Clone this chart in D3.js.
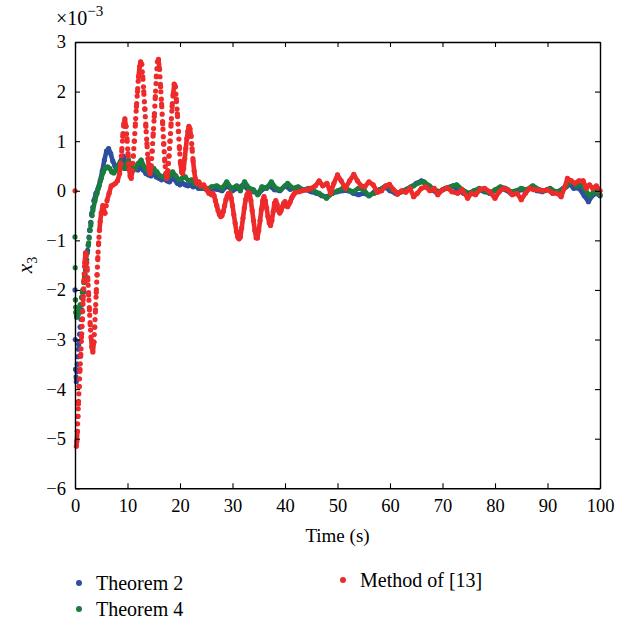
<!DOCTYPE html>
<html>
<head>
<meta charset="utf-8">
<script src="https://cdn.jsdelivr.net/npm/d3@7"></script>
<style>
  body { margin: 0; background: #fff; }
  svg { display: block; font-family: "Liberation Serif", "DejaVu Serif", serif; }
</style>
</head>
<body>
<svg id="chart" width="626" height="627"></svg>
<script>
// x_3 responses, values in units of 1e-3, time in seconds
var theorem2 = [[0,-2.0],[0.05,-3.0],[0.12,-3.6],[0.25,-3.85],[0.45,-3.5],[0.7,-3.1],[1.0,-2.75],[1.3,-2.4],[1.6,-2.05],[2.0,-1.6],[2.4,-1.2],[2.8,-0.8],[3.2,-0.45],[3.6,-0.2],[4.0,-0.05],[4.4,0.05],[4.8,0.2],[5.2,0.4],[5.6,0.62],[6.0,0.8],[6.4,0.85],[6.8,0.75],[7.2,0.6],[7.6,0.5],[8.0,0.45],[8.4,0.5],[8.8,0.62],[9.2,0.7],[9.6,0.55],[10.0,0.45],[10.5,0.42],[11,0.4],[11.5,0.45],[12,0.42],[12.5,0.5],[13,0.42],[13.5,0.35],[14,0.32],[14.5,0.3],[15,0.35],[15.5,0.28],[16,0.25],[16.5,0.22],[17,0.25],[17.5,0.2],[18,0.18],[18.5,0.25],[19,0.22],[19.5,0.15],[20,0.12],[20.5,0.15],[21,0.12],[21.5,0.1],[22,0.12],[22.5,0.08],[23,0.1],[23.5,0.05],[24,0.05],
  [25,0.03],[26,0.05],[27,0.03],[28,0.0],[29,0.1],[30,0.0],[31,0.05],[32,0.12],[33,0.02],[34,-0.02],[35,-0.05],[36,0.05],[37,0.1],[38,0.02],[39,0.0],[40,0.1],[41,0.03],[42,0.05],[43,0.0],[44,0.02],[45,-0.02],[46,-0.05],[47,-0.1],[48,-0.12],[49,-0.05],[50,-0.02],[51,0.0],[52,0.0],[53,-0.05],[54,-0.08],[55,-0.05],[56,-0.1],[57,-0.02],[58,0.02],[59,0.08],[60,0.0],[61,-0.05],[62,-0.03],[63,0.02],[64,0.08],[65,0.15],[66,0.2],[67,0.12],[68,0.02],[69,-0.05],[70,0.02],[71,0.05],[72,0.1],[73,0.0],[74,-0.05],[75,-0.05],[76,0.0],[77,0.02],[78,-0.02],[79,-0.05],[80,0.0],[81,0.05],[82,0.02],[83,-0.05],[84,-0.02],[85,0.02],[86,0.0],[87,0.08],[88,0.0],[89,-0.02],[90,0.03],[91,-0.05],[92,-0.02],[93,0.05],[94,0.15],[95,0.05],[96,0.05],[97,-0.1],[97.8,-0.22],[98.5,-0.1],[99.3,-0.05],[100,-0.1]];

var theorem4 = [[0,-0.93],[0.04,-1.55],[0.08,-2.2],[0.15,-2.45],[0.3,-2.55],[0.6,-2.5],[1.0,-2.3],[1.4,-2.05],[1.8,-1.75],[2.2,-1.4],[2.6,-1.05],[3.0,-0.7],[3.4,-0.4],[3.8,-0.2],[4.2,-0.05],[4.6,0.1],[5.0,0.25],[5.4,0.38],[5.8,0.46],[6.2,0.48],[6.6,0.45],[7.0,0.38],[7.4,0.36],[7.8,0.42],[8.2,0.52],[8.6,0.58],[9.0,0.5],[9.4,0.45],[9.8,0.55],[10.2,0.62],[10.6,0.5],[11,0.42],[11.5,0.45],[12,0.55],[12.6,0.62],[13.2,0.48],[13.8,0.4],[14.4,0.38],[15,0.45],[15.6,0.38],[16.2,0.3],[16.8,0.28],[17.4,0.35],[18,0.3],[18.6,0.38],[19.2,0.3],[19.8,0.22],[20.4,0.25],[21,0.28],[21.6,0.2],[22.2,0.22],[22.8,0.15],[23.4,0.12],[24,0.08],[24.6,0.05],[25.2,0.03],
  [26,0.08],[27,0.1],[28,0.05],[28.9,0.18],[29.8,0.05],[30.8,0.1],[31.5,0.0],[32.3,0.18],[33.2,0.05],[34,0.02],[34.8,-0.08],[35.6,0.08],[36.5,0.05],[37.4,0.18],[38.3,0.05],[39.2,0.02],[40.5,0.15],[41.5,0.05],[42.5,0.08],[43.5,0.02],[44.5,0.05],[45.5,0.0],[46.5,-0.05],[47.9,-0.15],[49,-0.05],[50,0.0],[51,0.05],[52,0.02],[53,-0.02],[54,0.05],[55,0.02],[56,-0.1],[57,-0.05],[58,0.02],[59.3,0.1],[60.5,0.02],[61.5,-0.05],[62.5,0.0],[63.5,0.05],[64.5,0.1],[65.5,0.16],[66.5,0.18],[67.5,0.1],[68.5,0.02],[69.5,-0.02],[70.5,0.05],[71.5,0.08],[72.7,0.12],[73.8,0.02],[75,-0.05],[76,0.0],[77,0.05],[78,0.0],[79,-0.05],[80,0.02],[81,0.08],[82,0.05],[83,-0.02],[84,0.0],[85,0.05],[86,0.02],[87.2,0.1],[88.5,0.02],[89.5,0.0],[90.5,0.05],[91.5,-0.02],[92.5,0.0],[93.6,0.08],[94.5,0.2],[95.5,0.1],[96.5,0.12],[97.3,0.0],[98,-0.1],[99,0.0],[100,-0.08]];

var method13 = [[0,0],[0.25,-5.15],[0.35,-5.05],[0.45,-4.85],[0.55,-4.55],[0.65,-4.3],[0.8,-3.95],[0.95,-3.6],[1.1,-3.3],[1.25,-2.95],[1.4,-2.6],[1.55,-2.2],[1.7,-1.8],[1.85,-1.45],[2.0,-1.25],[2.15,-1.3],[2.3,-1.55],[2.45,-1.8],[2.6,-2.1],[2.75,-2.4],[2.9,-2.7],[3.05,-2.95],[3.2,-3.15],[3.4,-3.25],[3.6,-3.05],[3.75,-2.75],[3.9,-2.4],[4.05,-2.05],[4.2,-1.7],[4.35,-1.35],[4.5,-1.05],[4.65,-0.8],[4.8,-0.62],[5.0,-0.45],[5.3,-0.3],[5.7,-0.45],[6.1,-0.2],[6.5,-0.05],[6.9,0.1],[7.3,0.12],[7.7,0.15],[8.1,0.2],
  [8.5,0.35],[8.7,0.55],[8.9,0.8],[9.1,1.1],[9.3,1.35],[9.5,1.45],[9.7,1.3],[9.9,1.05],[10.1,0.75],[10.3,0.45],[10.5,0.3],[10.7,0.25],[10.9,0.4],[11.1,0.7],[11.3,1.0],[11.5,1.35],[11.7,1.7],[11.9,2.0],[12.1,2.3],[12.3,2.5],[12.5,2.6],[12.7,2.55],[12.9,2.3],[13.1,2.0],[13.3,1.65],[13.5,1.3],[13.7,0.95],[13.9,0.65],[14.1,0.45],[14.3,0.35],[14.5,0.5],[14.7,0.8],[14.9,1.15],[15.1,1.5],[15.3,1.9],[15.5,2.3],[15.7,2.6],[15.9,2.65],[16.1,2.45],[16.3,2.1],[16.5,1.75],[16.7,1.35],[16.9,0.95],[17.1,0.6],[17.3,0.35],[17.5,0.25],[17.7,0.4],[17.9,0.7],[18.1,1.0],[18.3,1.35],[18.5,1.7],[18.7,1.95],[18.9,2.15],[19.1,2.1],[19.3,1.85],[19.5,1.55],[19.7,1.2],[19.9,0.85],[20.1,0.55],[20.3,0.38],[20.5,0.35],[20.7,0.45],[20.9,0.65],[21.1,0.85],[21.3,1.05],[21.5,1.2],[21.7,1.3],[21.9,1.25],[22.1,1.1],[22.3,0.85],[22.5,0.6],[22.7,0.4],[22.9,0.25],[23.2,0.15],[23.6,0.18],[24.0,0.1],[24.5,0.12],
  [25.0,0.05],[25.25,0.0],[25.5,-0.05],[25.75,-0.05],[26.0,-0.08],[26.25,-0.05],[26.5,-0.1],[26.75,-0.2],[27.0,-0.3],[27.25,-0.4],[27.5,-0.48],[27.75,-0.52],[28.0,-0.5],[28.25,-0.42],[28.5,-0.3],[28.75,-0.18],[29.0,-0.1],[29.25,-0.05],[29.5,-0.05],[29.75,-0.15],[30.0,-0.3],[30.25,-0.48],[30.5,-0.65],[30.75,-0.82],[31.0,-0.93],[31.25,-0.97],[31.5,-0.93],[31.75,-0.75],[32.0,-0.55],[32.25,-0.35],[32.5,-0.18],[32.75,-0.08],[33.0,-0.03],[33.25,-0.05],[33.5,-0.2],[33.75,-0.4],[34.0,-0.6],[34.25,-0.8],[34.5,-0.95],[34.75,-0.95],[35.0,-0.8],[35.25,-0.6],[35.5,-0.38],[35.75,-0.2],[36.0,-0.12],[36.25,-0.2],[36.5,-0.35],[36.75,-0.52],[37.0,-0.65],[37.25,-0.7],[37.5,-0.6],[37.75,-0.42],[38.0,-0.25],[38.25,-0.2],[38.5,-0.28],[38.75,-0.4],[39.0,-0.45],[39.25,-0.4],[39.5,-0.32],[39.75,-0.25],[40.0,-0.22],[40.25,-0.3],[40.5,-0.32],[40.75,-0.27],[41.0,-0.22],[41.25,-0.15],[41.5,-0.1],[41.75,-0.06],[42.0,-0.03],
  [42.6,-0.02],[43.2,0.0],[44.2,0.02],[45.0,0.05],[45.8,0.1],[46.5,0.2],[47.2,0.1],[48.0,0.15],[48.7,-0.05],[49.3,0.15],[50.0,0.32],[50.7,0.2],[51.5,0.05],[52.3,0.2],[53.1,0.33],[53.8,0.2],[54.5,0.1],[55.2,0.08],[56.0,0.18],[56.8,0.12],[57.6,-0.03],[58.4,0.0],[59.2,0.1],[59.9,0.13],[60.7,0.02],[61.4,-0.07],[62.2,0.0],[63.0,-0.03],[63.8,0.05],[64.5,-0.12],[65.2,-0.05],[66.0,0.05],[66.8,0.08],[67.6,0.0],[68.4,0.05],[69.1,-0.08],[70.0,0.02],[70.9,0.06],[71.8,-0.02],[72.9,-0.05],[73.7,0.02],[74.8,-0.15],[75.5,-0.05],[76.3,-0.08],[77.2,0.03],[78.0,0.05],[79.0,-0.02],[80.0,-0.15],[80.8,-0.02],[81.6,0.05],[82.5,0.02],[83.3,-0.08],[84.2,-0.05],[85.0,-0.18],[85.8,-0.05],[86.6,0.05],[87.4,0.02],[88.2,0.02],[89.0,0.0],[90.0,0.02],[91.0,-0.05],[91.8,-0.05],[92.6,-0.12],[93.2,0.05],[93.8,0.25],[94.5,0.2],[95.2,0.15],[96.0,0.2],[96.8,0.2],[97.4,0.05],[98.0,0.12],[98.6,0.05],[99.3,0.1],[100,0.0]];

var xTicks = [0, 10, 20, 30, 40, 50, 60, 70, 80, 90, 100];
var yTicks = [3, 2, 1, 0, -1, -2, -3, -4, -5, -6];

var seriesList = [
    {name: "Theorem 2", data: theorem2, color: "#2f4ea2"},
    {name: "Theorem 4", data: theorem4, color: "#1b7d3d"},
    {name: "Method of [13]", data: method13, color: "#ee2a2b"}
];

var plotL = 75, plotR = 600, plotT = 42, plotB = 488.3;

var x = d3.scaleLinear().domain([0, 100]).range([plotL, plotR]);
var y = d3.scaleLinear().domain([-6, 3]).range([plotB, plotT]);

var svg = d3.select("#chart");

var line = d3.line().x(function(d){ return d[0]; }).y(function(d){ return d[1]; });

// the solver output is a dot trail: where samples are close it merges into a band,
// where the value moves fast it shows single dots, big jumps stay empty
function splitRuns(pts) {
    var runs = [], cur = null;
    for (var i = 1; i < pts.length; i++) {
        var dx = pts[i][0] - pts[i-1][0], dy = pts[i][1] - pts[i-1][1];
        var d = Math.sqrt(dx*dx + dy*dy);
        var kind = d > 28 ? "gap" : (d > 12 ? "dots" : "band");
        if (!cur || cur.kind !== kind) {
            cur = {kind: kind, pts: [pts[i-1]]};
            runs.push(cur);
        }
        cur.pts.push(pts[i]);
    }
    return runs.filter(function(r){ return r.kind !== "gap"; });
}

seriesList.forEach(function(s){
    var pts = s.data.map(function(d){ return [x(d[0]), y(d[1])]; });
    var g = svg.append("g");

    g.selectAll("path").data(splitRuns(pts))
        .enter().append("path")
        .attr("d", function(r){ return line(r.pts); })
        .attr("fill", "none")
        .attr("stroke", s.color)
        .attr("stroke-width", function(r){ return r.kind === "band" ? 4.6 : 5.2; })
        .attr("stroke-dasharray", function(r){ return r.kind === "band" ? null : "0 7.5"; })
        .attr("stroke-linejoin", "round")
        .attr("stroke-linecap", "round");

    g.selectAll("circle").data(pts)
        .enter().append("circle")
        .attr("cx", function(d){ return d[0]; })
        .attr("cy", function(d){ return d[1]; })
        .attr("r", 2.6)
        .attr("fill", s.color);
});

// axes box, ticks pointing inwards
var fmt = d3.format("d");
function styleAxis(g) {
    g.selectAll("path").attr("stroke", "#000").attr("stroke-width", 1.4);
    g.selectAll("line").attr("stroke", "#000").attr("stroke-width", 1.1);
    g.selectAll("text").attr("font-family", "Liberation Serif").attr("font-size", 18.5).attr("fill", "#000");
}

svg.append("g").attr("transform", "translate(0," + plotB + ")")
    .call(d3.axisBottom(x).tickValues(xTicks).tickFormat(fmt).tickSizeInner(-5).tickSizeOuter(0).tickPadding(11))
    .call(styleAxis);
svg.append("g").attr("transform", "translate(0," + plotT + ")")
    .call(d3.axisTop(x).tickValues(xTicks).tickFormat("").tickSizeInner(-5).tickSizeOuter(0))
    .call(styleAxis);
svg.append("g").attr("transform", "translate(" + plotL + ",0)")
    .call(d3.axisLeft(y).tickValues(yTicks).tickFormat(fmt).tickSizeInner(-5).tickSizeOuter(0).tickPadding(9))
    .call(styleAxis);
svg.append("g").attr("transform", "translate(" + plotR + ",0)")
    .call(d3.axisRight(y).tickValues(yTicks).tickFormat("").tickSizeInner(-5).tickSizeOuter(0))
    .call(styleAxis);

// exponent label
var expo = svg.append("text").attr("x", 56).attr("y", 25).attr("font-size", 20);
expo.append("tspan").text("×10");
expo.append("tspan").attr("font-size", 15).attr("dy", -9).text("−3");

// axis titles
svg.append("text").attr("x", (plotL + plotR) / 2).attr("y", 542)
    .attr("text-anchor", "middle").attr("font-size", 19).text("Time (s)");

var yl = svg.append("text").attr("transform", "translate(32,265) rotate(-90)")
    .attr("text-anchor", "middle").attr("font-size", 21);
yl.append("tspan").attr("font-style", "italic").text("x");
yl.append("tspan").attr("font-size", 14).attr("dy", 5).text("3");

// legend
var legendPos = [[79, 583], [79, 609], [343, 580]];
var lg = svg.selectAll("g.legend").data(seriesList).enter().append("g")
    .attr("class", "legend")
    .attr("transform", function(d, i){ return "translate(" + legendPos[i][0] + "," + legendPos[i][1] + ")"; });
lg.append("circle").attr("r", 3).attr("fill", function(d){ return d.color; });
lg.append("text").attr("x", 17).attr("y", 7).attr("font-size", 20).text(function(d){ return d.name; });
</script>
</body>
</html>
